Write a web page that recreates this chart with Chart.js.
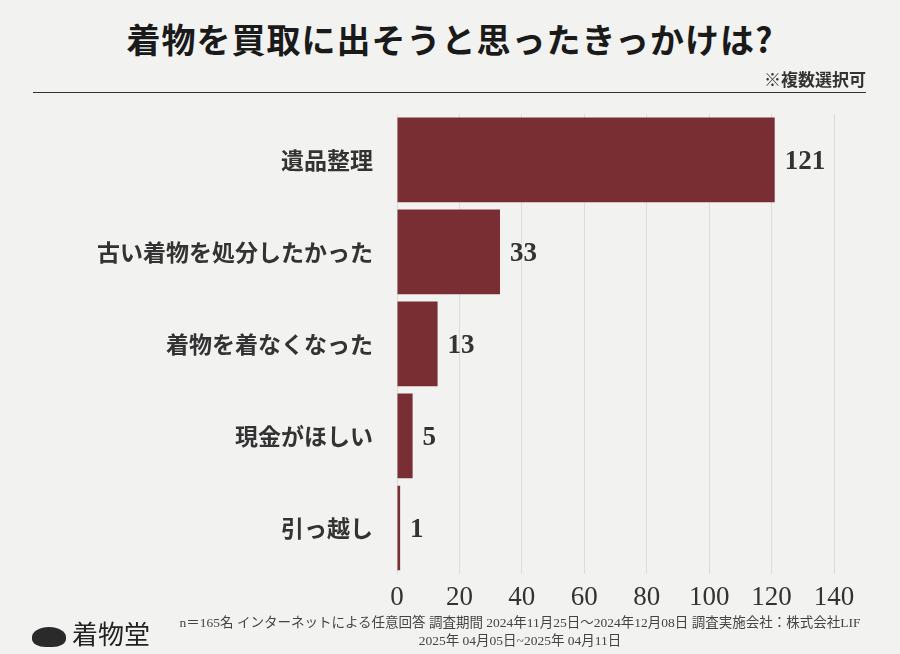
<!DOCTYPE html>
<html><head><meta charset="utf-8">
<script src="https://cdn.jsdelivr.net/npm/chart.js@4"></script>
<style>
html,body{margin:0;padding:0;background:#f2f2f1;width:900px;height:654px;overflow:hidden;font-family:"Noto Sans CJK JP",sans-serif;}
#title{position:absolute;left:0;top:14px;width:900px;text-align:center;font-size:34px;font-weight:bold;color:#1a1a1a;letter-spacing:1px;}
#line{position:absolute;left:33px;top:92px;width:833px;height:1px;background:#333;z-index:2;}
#note{position:absolute;right:34px;top:66px;font-size:17px;font-weight:bold;color:#333;z-index:2;}
#wrap{position:absolute;left:0;top:84px;width:900px;height:536px;}
#logo{position:absolute;left:32px;top:614px;font-size:26px;color:#222;font-family:"Noto Sans CJK JP";}
#logo span{display:inline-block;width:34px;height:20px;background:#2a2a2a;border-radius:50% 50% 40% 40%;margin-right:6px;vertical-align:middle;}
#foot{position:absolute;left:140px;top:614px;width:760px;text-align:center;font-size:13.5px;color:#444;line-height:18px;font-family:"Liberation Serif","Noto Sans CJK JP",serif;}
</style></head><body>
<div id="title">着物を買取に出そうと思ったきっかけは?</div>
<div id="wrap"><canvas id="c" width="900" height="536"></canvas></div>
<div id="note">※複数選択可</div>
<div id="line"></div>
<div id="logo"><span></span>着物堂</div>
<div id="foot">n＝165名 インターネットによる任意回答 調査期間 2024年11月25日～2024年12月08日 調査実施会社：株式会社LIF<br>2025年 04月05日~2025年 04月11日</div>
<script>
const categories=["遺品整理","古い着物を処分したかった","着物を着なくなった","現金がほしい","引っ越し"];
const values=[121,33,13,5,1];
const ticksX=[0,20,40,60,80,100,120,140];
const valLabels={id:'vl',afterDatasetsDraw(ch){const c=ch.ctx;const m=ch.getDatasetMeta(0);c.save();c.font='bold 27px "Liberation Serif",serif';c.fillStyle='#333';c.textBaseline='middle';m.data.forEach((b,i)=>{c.fillText(values[i],b.x+10,b.y+2);});c.restore();}};
new Chart(document.getElementById('c'),{type:'bar',
data:{labels:categories,datasets:[{data:values,backgroundColor:'#782e33',categoryPercentage:0.92,barPercentage:1}]},
options:{indexAxis:'y',responsive:false,animation:false,
layout:{padding:{left:0,right:66,top:0,bottom:0}},
plugins:{legend:{display:false},tooltip:{enabled:false}},
scales:{
x:{min:0,max:140,afterBuildTicks(a){a.ticks=ticksX.map(v=>({value:v}));},afterFit(a){a.height=46;},
grid:{color:'#dcdcdc',drawTicks:false},border:{display:false},
ticks:{padding:8,font:{family:'"Liberation Serif",serif',size:27},color:'#333'}},
y:{afterFit(a){a.width=397;},grid:{display:false},border:{display:false},
ticks:{padding:16,font:{family:'"Noto Sans CJK JP"',size:23,weight:'bold'},color:'#333'}}}},
plugins:[valLabels]});
</script></body></html>
